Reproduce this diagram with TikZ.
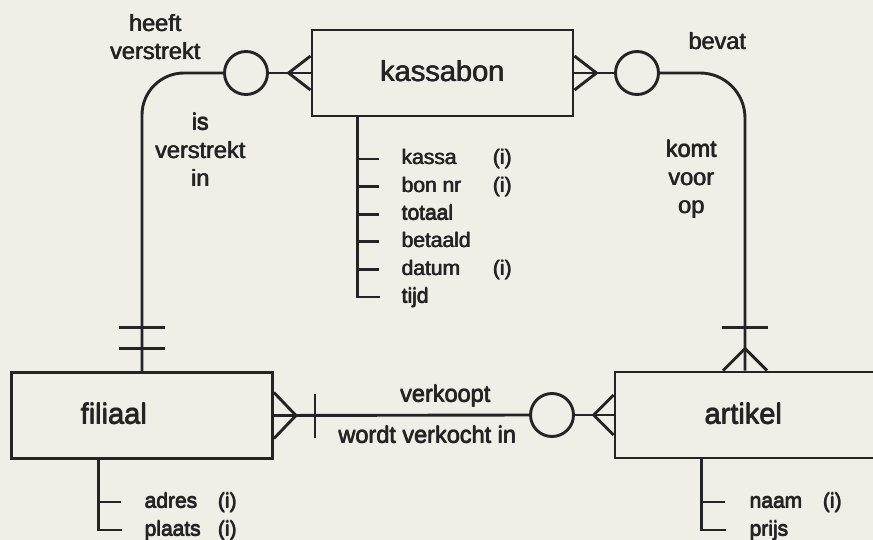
\documentclass[tikz,border=0pt]{standalone}
\usepackage{fontspec}
\setmainfont{Liberation Sans}
\usetikzlibrary{calc}
\definecolor{paper}{RGB}{239,239,231}
\definecolor{ink}{RGB}{36,36,36}
% slightly heavier lettering: overprint the text with small offsets
\newcommand\hv[1]{\leavevmode\rlap{\kern0.75pt#1}\rlap{\kern0.35pt\raise0.4pt\hbox{#1}}#1}

\begin{document}
\begin{tikzpicture}[x=1pt, y=-1pt, line width=2.9pt, color=ink,
  entity/.style={draw, rectangle, minimum width=261pt, minimum height=86pt, inner sep=0pt},
  optional/.style={draw, circle, minimum size=43pt, inner sep=0pt},
  ename/.style={font=\fontsize{29}{34}\selectfont, inner sep=0pt, anchor=base},
  rel/.style={font=\fontsize{23.5}{28.3}\selectfont, inner sep=0pt, align=center},
  attr/.style={font=\fontsize{21}{25}\selectfont, inner sep=0pt, text height=14pt, text depth=2pt},
]
\fill[paper] (0,0) rectangle (873,540);
\useasboundingbox (0,0) rectangle (873,540);

% entities
\node[entity] (kassabon) at (442.5,73) {};
\node[entity] (filiaal)  at (142,415.5) {};
\node[entity, minimum width=260pt] (artikel) at (745,415) {};
\node[ename] (kassabontxt) at (442,82) {\hv{kassabon}};
\node[ename] (filiaaltxt)  at (113.5,424) {\hv{filiaal}};
\node[ename] (artikeltxt)  at (743,424) {\hv{artikel}};

% optionality circles
\node[optional] (o1) at (246,73) {};
\node[optional] (o2) at (637,73) {};
\node[optional] (o3) at (552,415) {};

% kassabon -- filiaal
\draw (kassabon.west) -- (o1.east);
\draw ($(kassabon.west)+(0,-17)$) -- ($(kassabon.west)+(-22,0)$) -- ($(kassabon.west)+(0,17)$);
\draw[rounded corners=42pt] (o1.west) -| (filiaal.north);
\draw ($(filiaal.north)+(-23,-44)$) -- ($(filiaal.north)+(23,-44)$);
\draw ($(filiaal.north)+(-23,-23)$) -- ($(filiaal.north)+(23,-23)$);

% kassabon -- artikel
\draw (kassabon.east) -- (o2.west);
\draw ($(kassabon.east)+(0,-17)$) -- ($(kassabon.east)+(22,0)$) -- ($(kassabon.east)+(0,17)$);
\draw[rounded corners=45pt] (o2.east) -| (artikel.north);
\draw ($(artikel.north)+(-22,0)$) -- ($(artikel.north)+(0,-22)$) -- ($(artikel.north)+(22,0)$);
\draw ($(artikel.north)+(-23,-43)$) -- ($(artikel.north)+(23,-43)$);

% filiaal -- artikel
\draw (filiaal.east) -- (o3.west);
\draw (o3.east) -- (artikel.west);
\draw ($(filiaal.east)+(0,-23)$) -- ($(filiaal.east)+(22,0)$) -- ($(filiaal.east)+(0,23)$);
\draw ($(filiaal.east)+(41,-22)$) -- ($(filiaal.east)+(41,22)$);
\draw ($(artikel.west)+(0,-20)$) -- ($(artikel.west)+(-20,0)$) -- ($(artikel.west)+(0,20)$);

% relationship labels (anchored on the baseline of the last line)
\node[rel, anchor=base] (heeft) at (155,60) {\hv{heeft}\\\hv{verstrekt}};
\node[rel, anchor=base] (isin) at (200,187) {\hv{is}\\\hv{verstrekt}\\\hv{in}};
\node[rel, anchor=base] (bevat) at (717,50) {\hv{bevat}};
\node[rel, anchor=base] (komt) at (691,214) {\hv{komt}\\\hv{voor}\\\hv{op}};
\node[rel, anchor=base] (verkoopt) at (445,402) {\hv{verkoopt}};
\node[rel, anchor=base] (verkocht) at (427,443) {\hv{wordt verkocht in}};

% kassabon attributes
\coordinate (kroot) at ($(kassabon.south west)+(47,0)$);
\foreach \t/\k [count=\i from 0] in {kassa/(i), bon nr/(i), totaal/, betaald/, datum/(i), tijd/} {
  \node[attr, anchor=west] (ka\i) at (400,{159+27.6*\i}) {\hv{\t}};
  \node[attr] (ki\i) at (502,{159+27.6*\i}) {\hv{\k}};
}
\draw (kroot) |- ($(ka5.west)+(-20,0)$);
\foreach \i in {0,...,4} \draw (kroot |- ka\i.west) -- ++(21,0);

% filiaal attributes
\coordinate (froot) at ($(filiaal.south west)+(88,0)$);
\node[attr, anchor=west] (fa0) at (143,502) {\hv{adres}};
\node[attr] (fi0) at (227,502) {\hv{(i)}};
\node[attr, anchor=west] (fa1) at (143,530) {\hv{plaats}};
\node[attr] (fi1) at (227,530) {\hv{(i)}};
\draw (froot) |- ($(fa1.west)+(-21,0)$);
\draw (froot |- fa0.west) -- ++(23,0);

% artikel attributes
\coordinate (aroot) at ($(artikel.south west)+(88,0)$);
\node[attr, anchor=west] (aa0) at (748,502) {\hv{naam}};
\node[attr] (ai0) at (832,502) {\hv{(i)}};
\node[attr, anchor=west] (aa1) at (748,530) {\hv{prijs}};
\draw (aroot) |- ($(aa1.west)+(-22,0)$);
\draw (aroot |- aa0.west) -- ++(23,0);
\end{tikzpicture}
\end{document}
